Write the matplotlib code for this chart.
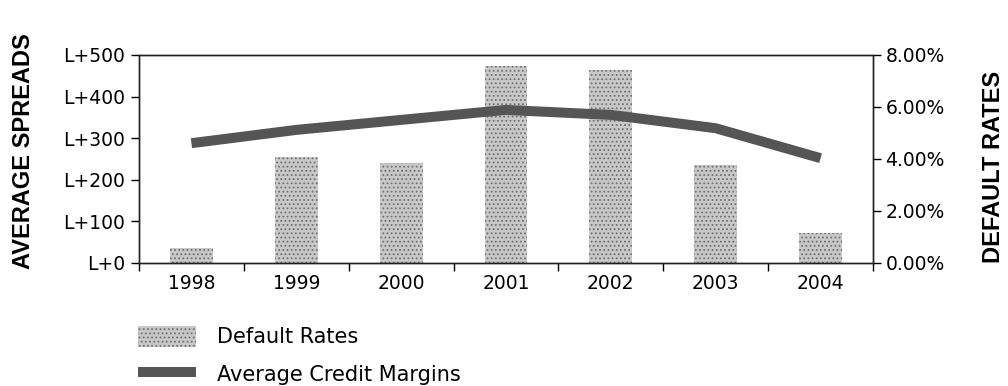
import matplotlib
matplotlib.use("Agg")
import matplotlib.pyplot as plt
from matplotlib.ticker import FuncFormatter, FixedLocator

years = ["1998", "1999", "2000", "2001", "2002", "2003", "2004"]
default_rates = [0.58, 4.08, 3.85, 7.58, 7.42, 3.77, 1.15]      # percent
credit_margins = [288, 320, 344, 368, 356, 324, 252]             # bp over LIBOR
spread_ticks = [0, 100, 200, 300, 400, 500]
rate_ticks = [0, 2, 4, 6, 8]

plt.rcParams["font.family"] = ["DejaVu Sans"]
plt.rcParams["hatch.linewidth"] = 0.8

fig = plt.figure(figsize=(10.08, 3.86), dpi=100)
ax = fig.add_axes([139 / 1008, 123 / 386, (873 - 139) / 1008, 208 / 386])
ax2 = ax.twinx()

x = list(range(len(years)))

# default rate bars on the right-hand scale
bars = ax2.bar(x, default_rates, width=0.41, facecolor="#c8c8c8",
               edgecolor="#707070", hatch="....", linewidth=0,
               label="Default Rates", zorder=1)

# spread line on the left-hand scale, drawn above the bars
ax.set_zorder(ax2.get_zorder() + 1)
ax.patch.set_visible(False)
line, = ax.plot(x, credit_margins, color="#555555", linewidth=7.2,
                solid_capstyle="butt", solid_joinstyle="round",
                label="Average Credit Margins", zorder=3)

ax.set_xlim(-0.5, len(years) - 0.5)
ax.set_ylim(0, 500)
ax2.set_ylim(0, 8)

ax.xaxis.set_major_locator(FixedLocator([i - 0.5 for i in range(len(years) + 1)]))
ax.xaxis.set_minor_locator(FixedLocator(x))
ax.set_xticklabels([])
ax.set_xticklabels(years, minor=True)
ax.tick_params(axis="x", which="major", direction="out", length=6, width=1)
ax.tick_params(axis="x", which="minor", length=0, labelsize=13.5, pad=8)

ax.set_yticks(spread_ticks)
ax.yaxis.set_major_formatter(FuncFormatter(lambda v, p: f"L+{int(v)}"))
ax.tick_params(axis="y", direction="out", length=6, width=1, labelsize=13.5, pad=4)

ax2.set_yticks(rate_ticks)
ax2.yaxis.set_major_formatter(FuncFormatter(lambda v, p: f"{v:.2f}%"))
ax2.tick_params(axis="y", direction="out", length=6, width=1, labelsize=13.5, pad=3)

for a in (ax, ax2):
    for s in a.spines.values():
        s.set_linestyle((0, (1, 1)))
        s.set_linewidth(1.0)
        s.set_color("#222222")

fig.text(24 / 1008, 1 - 151 / 386, "AVERAGE SPREADS", rotation=90,
         ha="center", va="center", fontsize=17, fontweight="bold",
         family="Liberation Sans")
fig.text(994 / 1008, 1 - 167 / 386, "DEFAULT RATES", rotation=90,
         ha="center", va="center", fontsize=17, fontweight="bold",
         family="Liberation Sans")

fig.legend([bars, line], ["Default Rates", "Average Credit Margins"],
           loc="upper left", bbox_to_anchor=(123 / 1008, 1 - 311 / 386),
           frameon=False, fontsize=15, handlelength=2.8, handleheight=1.2,
           handletextpad=1.03, labelspacing=0.78, borderpad=0.2)

fig.savefig("out.png", dpi=100)
